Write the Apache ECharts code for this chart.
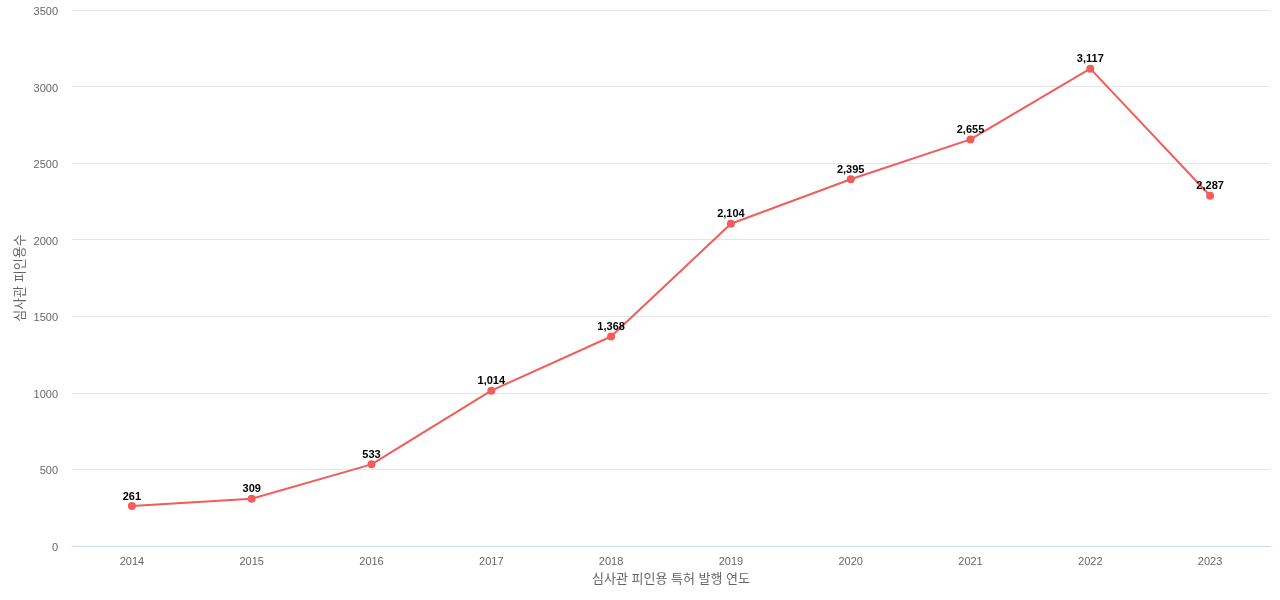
<!DOCTYPE html>
<html><head><meta charset="utf-8">
<script src="https://cdn.jsdelivr.net/npm/echarts@6/dist/echarts.min.js"></script>
<style>html,body{margin:0;padding:0;background:#fff}#c{width:1280px;height:600px}</style>
</head><body><div id="c"></div>
<script>
const years = ['2014','2015','2016','2017','2018','2019','2020','2021','2022','2023'];
const citations = [261, 309, 533, 1014, 1368, 2104, 2395, 2655, 3117, 2287];
const yTicks = {min: 0, max: 3500, interval: 500};
const xName = '심사관 피인용 특허 발행 연도';
const yName = '심사관 피인용수';

const chart = echarts.init(document.getElementById('c'));
const font = '"Liberation Sans", "Noto Sans CJK KR", sans-serif';
chart.setOption({
  animation: false,
  textStyle: {fontFamily: font},
  grid: {left: 72, right: 10, top: 10, bottom: 54, containLabel: false},
  xAxis: {
    type: 'category', data: years, boundaryGap: true,
    name: xName, nameLocation: 'middle', nameGap: 27,
    nameTextStyle: {color: '#666', fontSize: 13, fontFamily: font},
    axisLine: {lineStyle: {color: '#ccd6eb'}},
    axisTick: {show: false},
    axisLabel: {color: '#666', fontSize: 11, margin: 10, fontFamily: font}
  },
  yAxis: {
    type: 'value', min: yTicks.min, max: yTicks.max, interval: yTicks.interval,
    name: yName, nameLocation: 'middle', nameGap: 45, nameRotate: 90, nameMoveOverlap: false,
    nameTextStyle: {color: '#666', fontSize: 13, fontFamily: font},
    axisLine: {show: false}, axisTick: {show: false},
    axisLabel: {color: '#666', fontSize: 11, margin: 14, fontFamily: font, lineHeight: 16, verticalAlign: 'middle',
      formatter: v => '{a|' + v + '}', rich: {a: {color: '#666', fontSize: 11, fontFamily: font, padding: [4, 0, 0, 0]}}},
    splitLine: {lineStyle: {color: '#e6e6e6'}}
  },
  series: [{
    type: 'line', data: citations,
    symbol: 'circle', symbolSize: 8,
    lineStyle: {color: '#f25c5a', width: 2},
    itemStyle: {color: '#f25c5a'},
    label: {show: true, position: 'top', distance: 0, color: '#000', fontWeight: 'bold', fontSize: 11, fontFamily: font,
      formatter: p => p.value.toLocaleString('en-US')}
  }]
});
</script></body></html>
